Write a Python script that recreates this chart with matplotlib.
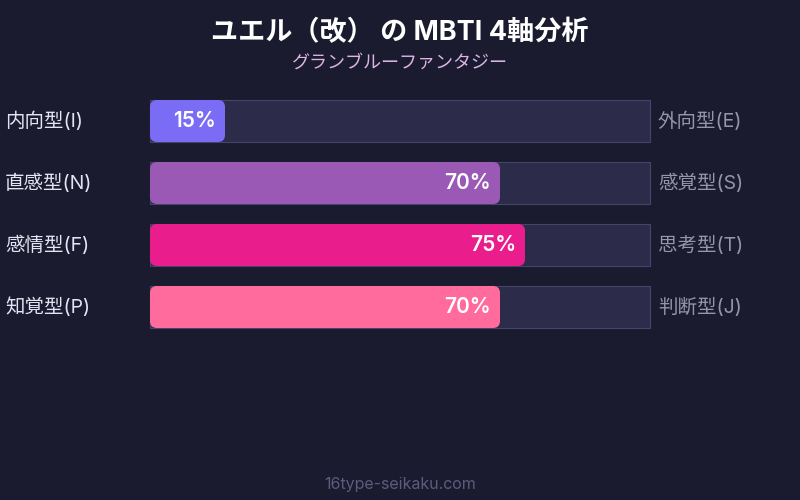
import matplotlib as mpl
mpl.use('agg')
import matplotlib.pyplot as plt
from matplotlib.patches import FancyBboxPatch, Rectangle

plt.rcParams['font.family'] = ['Inter', 'Noto Sans CJK JP', 'DejaVu Sans']

title = "ユエル（改） の MBTI 4軸分析"
subtitle = "グランブルーファンタジー"
footer = "16type-seikaku.com"

left_labels = ['内向型(I)', '直感型(N)', '感情型(F)', '知覚型(P)']
right_labels = ['外向型(E)', '感覚型(S)', '思考型(T)', '判断型(J)']
percents = [15, 70, 75, 70]
colors = ['#7b6cf6', '#9b59b6', '#e91e8c', '#ff6b9d']

bg = '#1a1b2e'
track_col = '#2d2b4a'
track_edge = '#45446a'

fig = plt.figure(figsize=(8, 5), dpi=100)
fig.patch.set_facecolor(bg)
ax = fig.add_axes([0, 0, 1, 1])
ax.set_facecolor(bg)
ax.set_xlim(0, 800)
ax.set_ylim(500, 0)
ax.axis('off')

x0 = 150
track_w = 500
bar_h = 42
y_top0 = 100
gap = 62

for i, (ll, rl, p, c) in enumerate(zip(left_labels, right_labels, percents, colors)):
    yt = y_top0 + i * gap
    yc = yt + bar_h / 2
    ax.add_patch(Rectangle((x0, yt), track_w, bar_h, facecolor=track_col,
                           edgecolor=track_edge, linewidth=0.8))
    w = track_w * p / 100
    r = 7
    ax.add_patch(FancyBboxPatch((x0 + r, yt + r), w - 2 * r, bar_h - 2 * r,
                                boxstyle='round,pad=%d' % r, facecolor=c,
                                edgecolor='none', mutation_aspect=1))
    ax.text(x0 + w - 9, yc, '%d%%' % p, color='white', fontsize=15,
            fontweight='semibold', ha='right', va='center')
    ax.text(5, yc, ll, color='#e4e4f2', fontsize=14, ha='left', va='center')
    ax.text(658, yc, rl, color='#9696a8', fontsize=14, ha='left', va='center')

ax.text(400, 33, title, color='white', fontsize=19.5, fontweight='bold',
        ha='center', va='center')
ax.text(400, 63, subtitle, color='#dcb4e6', fontsize=13, ha='center', va='center')
ax.text(400, 485, footer, color='#5c5c7c', fontsize=11.5, ha='center', va='center')

plt.savefig('out.png', facecolor=bg)
